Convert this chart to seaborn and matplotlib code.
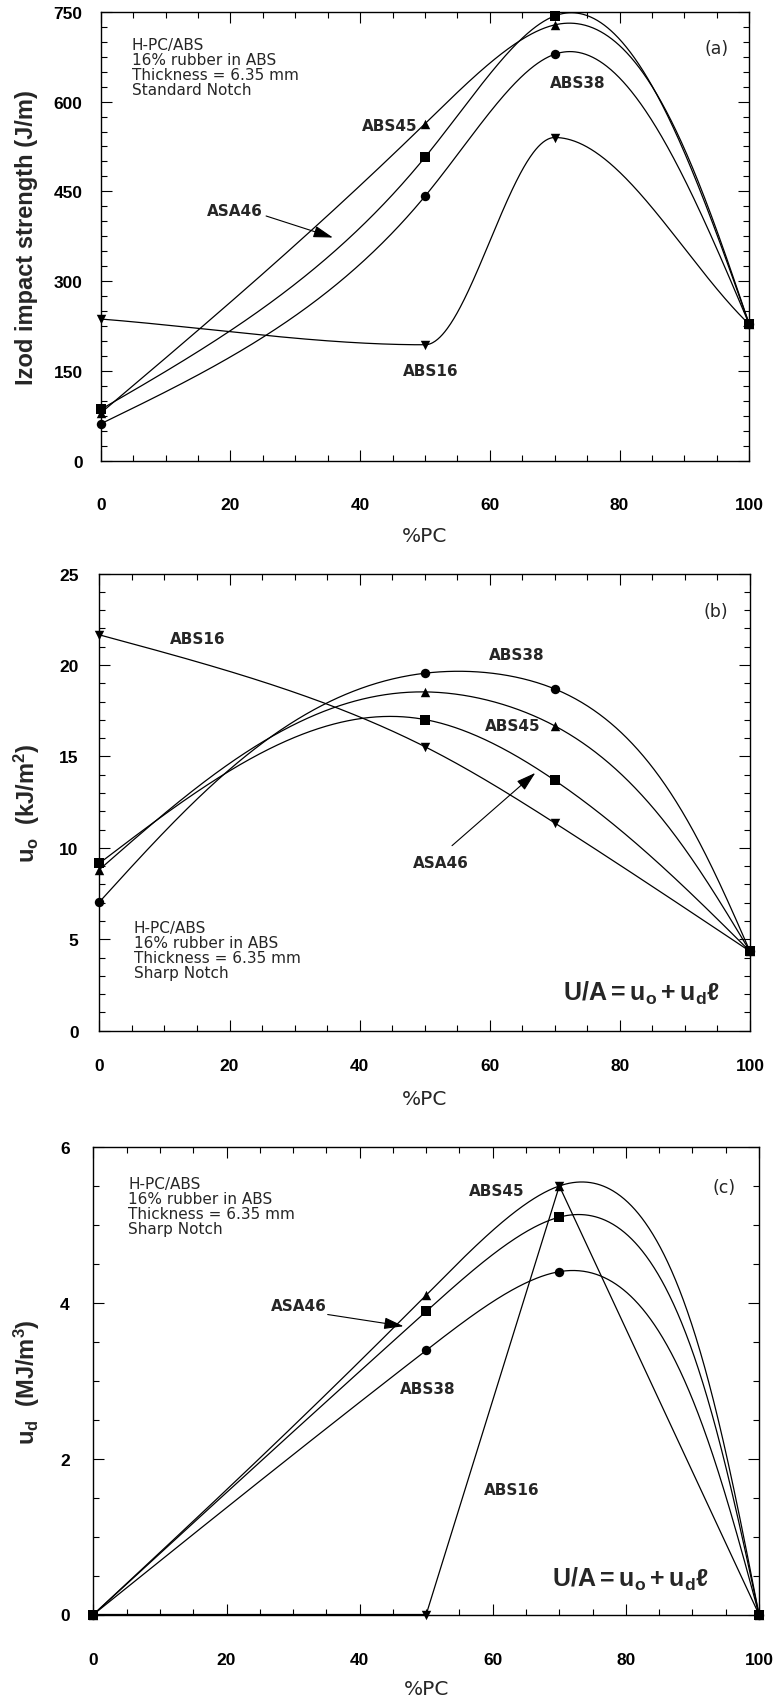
import numpy as np
import matplotlib
matplotlib.use("Agg")
import matplotlib.pyplot as plt
import seaborn as sns
from matplotlib.ticker import MultipleLocator

# composition (%PC) at which every blend was measured
pc = [0, 50, 70, 100]

# (a) Izod impact strength, J/m, standard notch
izod_abs16 = [237, 194, 540, 228]
izod_abs38 = [62, 442, 679, 228]
izod_abs45 = [80, 563, 728, 228]
izod_asa46 = [86, 507, 743, 228]

# (b) u_o, kJ/m2, sharp notch
uo_abs16 = [21.65, 15.54, 11.36, 4.34]
uo_abs38 = [7.04, 19.55, 18.69, 4.34]
uo_abs45 = [8.81, 18.53, 16.67, 4.34]
uo_asa46 = [9.16, 17.02, 13.69, 4.34]

# (c) u_d, MJ/m3, sharp notch
ud_abs16 = [0.0, 0.0, 5.50, 0.0]
ud_abs38 = [0.0, 3.39, 4.40, 0.0]
ud_abs45 = [0.0, 4.10, 5.50, 0.0]
ud_asa46 = [0.0, 3.89, 5.10, 0.0]

markers = {"ABS16": "v", "ABS38": "o", "ABS45": "^", "ASA46": "s"}


def natural_spline(x, y, xs):
    x = np.asarray(x, float)
    y = np.asarray(y, float)
    n = len(x)
    h = np.diff(x)
    A = np.zeros((n, n))
    r = np.zeros(n)
    A[0, 0] = A[-1, -1] = 1
    for i in range(1, n - 1):
        A[i, i - 1] = h[i - 1]
        A[i, i] = 2 * (h[i - 1] + h[i])
        A[i, i + 1] = h[i]
        r[i] = 3 * ((y[i + 1] - y[i]) / h[i] - (y[i] - y[i - 1]) / h[i - 1])
    c = np.linalg.solve(A, r)
    b = (y[1:] - y[:-1]) / h - h * (2 * c[:-1] + c[1:]) / 3
    d = (c[1:] - c[:-1]) / (3 * h)
    idx = np.clip(np.searchsorted(x, xs) - 1, 0, n - 2)
    dx = xs - x[idx]
    return y[idx] + b[idx] * dx + c[idx] * dx ** 2 + d[idx] * dx ** 3


def spline_curve(x, y, sx, sy, n=800):
    # parametric spline through the points, chord length measured on screen
    px = np.asarray(x, float) * sx
    py = np.asarray(y, float) * sy
    t = np.concatenate([[0], np.cumsum(np.hypot(np.diff(px), np.diff(py)))])
    ts = np.linspace(0, t[-1], n)
    return natural_spline(t, x, ts), natural_spline(t, y, ts)


def monotone_curve(x, y, sx, sy, n=800):
    # piecewise cubic hermite, flat at turning points, secant slopes at the ends
    x = np.asarray(x, float)
    y = np.asarray(y, float)
    h = np.diff(x)
    delta = np.diff(y) / h
    d = np.zeros(len(x))
    d[0], d[-1] = delta[0], delta[-1]
    for k in range(1, len(x) - 1):
        if delta[k - 1] * delta[k] > 0:
            w1 = 2 * h[k] + h[k - 1]
            w2 = h[k] + 2 * h[k - 1]
            d[k] = (w1 + w2) / (w1 / delta[k - 1] + w2 / delta[k])
    xs = np.linspace(x[0], x[-1], n)
    idx = np.clip(np.searchsorted(x, xs) - 1, 0, len(x) - 2)
    t = (xs - x[idx]) / h[idx]
    ys = ((2 * t ** 3 - 3 * t ** 2 + 1) * y[idx] + (t ** 3 - 2 * t ** 2 + t) * h[idx] * d[idx]
          + (-2 * t ** 3 + 3 * t ** 2) * y[idx + 1] + (t ** 3 - t ** 2) * h[idx] * d[idx + 1])
    return xs, ys


def straight(x, y, sx, sy):
    return np.asarray(x, float), np.asarray(y, float)


sns.set_style("ticks")
plt.rcParams["font.family"] = ["Liberation Sans", "DejaVu Sans"]
plt.rcParams["font.weight"] = "bold"
plt.rcParams["mathtext.fontset"] = "custom"
plt.rcParams["mathtext.rm"] = "Liberation Sans"
plt.rcParams["mathtext.bf"] = "Liberation Sans:bold"
plt.rcParams["mathtext.it"] = "Liberation Sans:italic"

W, H = 779, 1706
fig = plt.figure(figsize=(W / 100, H / 100), dpi=100)

# panel boxes in pixels: left, top, right, bottom
boxes = [(100.7, 12.7, 749.3, 462.0),
         (99.4, 574.6, 750.0, 1031.7),
         (93.4, 1148.0, 759.0, 1615.5)]

panels = [
    dict(series=[("ABS16", izod_abs16, monotone_curve), ("ABS38", izod_abs38, spline_curve),
                 ("ABS45", izod_abs45, spline_curve), ("ASA46", izod_asa46, spline_curve)],
         ylim=750, major=150, minor=25, ylabel="Izod impact strength (J/m)",
         xpad=26, ypad=13, xlab_off=74, tag="(a)", tag_xy=(95, 690),
         block="H-PC/ABS\n16% rubber in ABS\nThickness = 6.35 mm\nStandard Notch",
         block_xy=(4.8, 658),
         labels=[("ABS45", 48.8, 560, "right"), ("ABS38", 73.5, 632, "center"),
                 ("ABS16", 50.9, 151, "center"), ("ASA46", 20.7, 418, "center")],
         arrow=((25.5, 409), (35.8, 373)), formula=None),
    dict(series=[("ABS16", uo_abs16, spline_curve), ("ABS38", uo_abs38, spline_curve),
                 ("ABS45", uo_abs45, spline_curve), ("ASA46", uo_asa46, spline_curve)],
         ylim=25, major=5, minor=1, ylabel=r"$\mathbf{u_o}$  (kJ/m$^\mathbf{2}$)",
         xpad=20, ypad=15, xlab_off=68, tag="(b)", tag_xy=(94.8, 22.95),
         block="H-PC/ABS\n16% rubber in ABS\nThickness = 6.35 mm\nSharp Notch",
         block_xy=(5.3, 4.43),
         labels=[("ABS16", 15.1, 21.45, "center"), ("ABS38", 64.1, 20.58, "center"),
                 ("ABS45", 63.5, 16.71, "center"), ("ASA46", 52.5, 9.22, "center")],
         arrow=((54.2, 10.12), (67.0, 14.1)), formula=(83.3, 2.12)),
    dict(series=[("ABS16", ud_abs16, straight), ("ABS38", ud_abs38, spline_curve),
                 ("ABS45", ud_abs45, spline_curve), ("ASA46", ud_asa46, spline_curve)],
         ylim=6, major=2, minor=0.5, ylabel=r"$\mathbf{u_d}$  (MJ/m$^\mathbf{3}$)",
         xpad=27, ypad=17, xlab_off=74, tag="(c)", tag_xy=(94.7, 5.49),
         block="H-PC/ABS\n16% rubber in ABS\nThickness = 6.35 mm\nSharp Notch",
         block_xy=(5.2, 5.245),
         labels=[("ABS45", 60.6, 5.44, "center"), ("ASA46", 30.9, 3.97, "center"),
                 ("ABS38", 50.3, 2.90, "center"), ("ABS16", 62.8, 1.60, "center")],
         arrow=((35.2, 3.85), (46.6, 3.70)), formula=(80.7, 0.46)),
]

for (l, t, r, b), p in zip(boxes, panels):
    ax = fig.add_axes([l / W, 1 - b / H, (r - l) / W, (b - t) / H])
    sx = (r - l) / 100
    sy = (b - t) / p["ylim"]
    for name, vals, fit in p["series"]:
        cx, cy = fit(pc, vals, sx, sy)
        sns.lineplot(x=cx, y=cy, ax=ax, color="black", linewidth=0.9,
                     estimator=None, sort=False)
    for name, vals, fit in p["series"]:
        sns.scatterplot(x=pc, y=vals, ax=ax, marker=markers[name], s=46, color="black",
                        edgecolor="black", linewidth=0, clip_on=False, zorder=4)

    ax.set_xlim(0, 100)
    ax.set_ylim(0, p["ylim"])
    ax.xaxis.set_major_locator(MultipleLocator(20))
    ax.xaxis.set_minor_locator(MultipleLocator(5))
    ax.yaxis.set_major_locator(MultipleLocator(p["major"]))
    ax.yaxis.set_minor_locator(MultipleLocator(p["minor"]))
    ax.tick_params(which="both", direction="in", top=True, right=True, width=0.8,
                   color="black", labelcolor="black")
    ax.tick_params(which="major", length=8, labelsize=12.5)
    ax.tick_params(which="minor", length=4)
    ax.tick_params(axis="x", which="major", pad=p["xpad"])
    ax.tick_params(axis="y", which="major", pad=p["ypad"])
    for s in ax.spines.values():
        s.set_linewidth(1.0)
        s.set_color("black")

    ax.set_ylabel(p["ylabel"], fontsize=17, fontweight="bold")
    ax.yaxis.set_label_coords((27 - l) / (r - l), 0.5)
    ax.yaxis.label.set_va("center")
    ax.set_xlabel("%PC", fontsize=14.5, fontweight="normal", family=["DejaVu Sans"])
    ax.xaxis.set_label_coords(0.5, -p["xlab_off"] / (b - t))
    ax.xaxis.label.set_va("center")

    ax.text(p["block_xy"][0], p["block_xy"][1], p["block"], ha="left", va="center",
            fontsize=11, fontweight="normal", family=["DejaVu Sans"], linespacing=1.0)
    ax.text(p["tag_xy"][0], p["tag_xy"][1], p["tag"], ha="center", va="center",
            fontsize=12.5, fontweight="normal", family=["DejaVu Sans"])
    for txt, x, y, ha in p["labels"]:
        ax.text(x, y, txt, ha=ha, va="center", fontsize=11, fontweight="bold",
                family=["DejaVu Sans"])
    start, tip = p["arrow"]
    ax.annotate("", xy=tip, xytext=start,
                arrowprops=dict(arrowstyle="-|>,head_length=1.0,head_width=0.3",
                                color="black", lw=0.8, shrinkA=0, shrinkB=0,
                                mutation_scale=12))
    if p["formula"] is not None:
        ax.text(p["formula"][0], p["formula"][1], r"$\mathbf{U/A = u_o + u_d\ell}$",
                ha="center", va="center", fontsize=18)

fig.savefig("out.png", dpi=100)
